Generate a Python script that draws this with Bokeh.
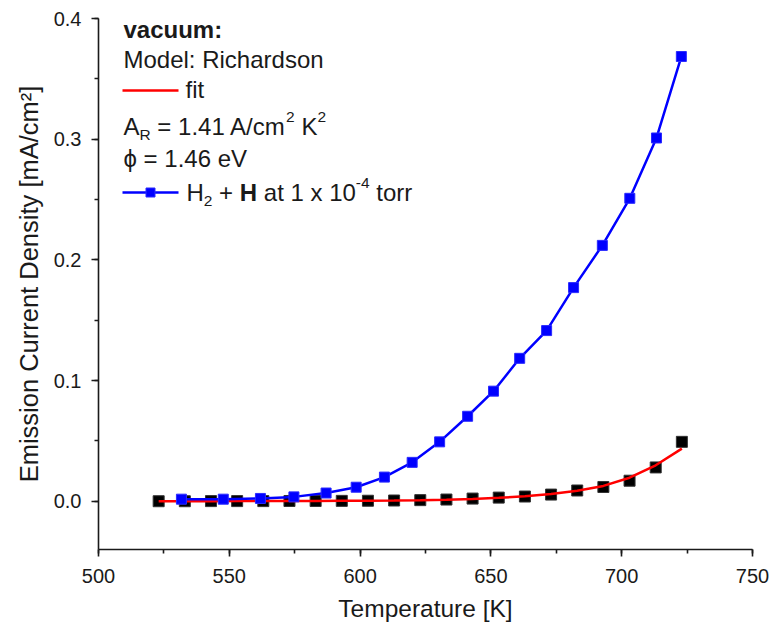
from bokeh.plotting import figure
from bokeh.models import Range1d, SingleIntervalTicker, PrintfTickFormatter, Label
from bokeh.embed import file_html
from bokeh.resources import INLINE

# ---------------- data ----------------
T_vacuum = [523, 533, 543, 553, 563, 573, 583, 593, 603, 613, 623,
            633, 643, 653, 663, 673, 683, 693, 703, 713, 723]
J_vacuum = [0.0000, 0.0000, 0.0001, 0.0001, 0.0001, 0.0002, 0.0002, 0.0003, 0.0004, 0.0006, 0.0009,
            0.0014, 0.0022, 0.0030, 0.0039, 0.0055, 0.0089, 0.0118, 0.0170, 0.0280, 0.0492]
J_fit = [0.0000, 0.0000, 0.0000, 0.0001, 0.0001, 0.0001, 0.0002, 0.0003, 0.0004, 0.0006, 0.0009,
         0.0013, 0.0019, 0.0028, 0.0041, 0.0060, 0.0087, 0.0127, 0.0195, 0.0298, 0.0436]
T_h2 = [531.7, 547.7, 561.9, 574.7, 587.0, 598.5, 609.3, 619.9, 630.4,
        641.1, 651.0, 661.0, 671.3, 681.6, 692.6, 703.1, 713.3, 722.8]
J_h2 = [0.0017, 0.0017, 0.0023, 0.0036, 0.0068, 0.0116, 0.0200, 0.0322, 0.0492,
        0.0704, 0.0912, 0.1184, 0.1414, 0.1770, 0.2120, 0.2510, 0.3010, 0.3685]

x_ticks_interval = 50
y_ticks_interval = 0.1
X0, X1 = 500, 750
Y0, Y1 = -0.04, 0.4

FONT = "Liberation Sans"
W, H = 769, 627
FL, FR, FT, FB = 98, 752, 18, 549   # frame edges in pixels

p = figure(width=W, height=H, output_backend="svg", toolbar_location=None,
           x_range=Range1d(X0, X1), y_range=Range1d(Y0, Y1),
           min_border_left=FL, min_border_right=W - FR,
           min_border_top=FT, min_border_bottom=H - FB)
p.outline_line_color = None
p.xgrid.visible = False
p.ygrid.visible = False
p.background_fill_color = "white"
p.border_fill_color = "white"

p.xaxis.ticker = SingleIntervalTicker(interval=x_ticks_interval, num_minor_ticks=2)
p.yaxis.ticker = SingleIntervalTicker(interval=y_ticks_interval, num_minor_ticks=2)
p.yaxis.formatter = PrintfTickFormatter(format="%.1f")
p.xaxis.axis_label = "Temperature [K]"
p.yaxis.axis_label = "Emission Current Density [mA/cm²]"

for ax in (p.xaxis[0], p.yaxis[0]):
    ax.axis_line_color = "#1a1a1a"
    ax.axis_line_width = 1.6
    ax.major_tick_line_color = "#1a1a1a"
    ax.major_tick_line_width = 1.6
    ax.minor_tick_line_color = "#1a1a1a"
    ax.minor_tick_line_width = 1.6
    ax.major_tick_in = 0
    ax.major_tick_out = 7
    ax.minor_tick_in = 0
    ax.minor_tick_out = 4
    ax.major_label_text_font = FONT
    ax.major_label_text_font_size = "20px"
    ax.major_label_text_color = "#1a1a1a"
    ax.axis_label_text_font = FONT
    ax.axis_label_text_font_size = "24.5px"
    ax.axis_label_text_font_style = "normal"
    ax.axis_label_text_color = "#1a1a1a"
p.yaxis.axis_label_text_font_size = "25.5px"
p.xaxis.major_label_standoff = 12
p.yaxis.major_label_standoff = 10
p.xaxis.axis_label_standoff = 9
p.yaxis.axis_label_standoff = 8

# ---------------- data marks ----------------
p.scatter(T_vacuum, J_vacuum, marker="square", size=11, fill_color="black",
          line_color="#333333", line_width=1)
p.line(T_vacuum, J_fit, line_color="#ff0000", line_width=2.5)
p.line(T_h2, J_h2, line_color="#0000ff", line_width=2.5)
p.scatter(T_h2, J_h2, marker="square", size=10, fill_color="#0000ff",
          line_color="#2a2aff", line_width=1)

# ---------------- legend block (pixel layout -> data coordinates) ----------------
def sx(px):
    return X0 + (px - FL) / (FR - FL) * (X1 - X0)

def sy(py):
    return Y1 - (py - FT) / (FB - FT) * (Y1 - Y0)

REG = {' ': 278, 'A': 667, 'C': 722, 'D': 722, 'E': 667, 'H': 722, 'K': 667, 'M': 833,
       'R': 722, 'V': 667, 'a': 556, 'c': 500, 'd': 556, 'e': 556, 'h': 556, 'i': 222,
       'l': 222, 'm': 833, 'n': 556, 'o': 556, 'r': 333, 's': 500, 't': 278, 'u': 556,
       'v': 500, 'x': 500, 'y': 500, '.': 278, ':': 278, '=': 584, '+': 584, '/': 278,
       '-': 333, '[': 278, ']': 278}
BOLD = {'H': 722, 'v': 556, 'a': 556, 'c': 556, 'u': 611, 'm': 889, ':': 333, ' ': 278}

def tw(text, size, bold=False):
    tab = BOLD if bold else REG
    return sum(tab.get(ch, 556) for ch in text) * size / 1000.0

LS = 24      # legend font size
SS = 15.5    # sub/superscript size
TEXT_SHIFT = -9

def seg_line(x, base, parts):
    """parts: (text, kind) with kind in normal/bold/sub/sup"""
    base += TEXT_SHIFT
    for text, kind in parts:
        size = SS if kind in ("sub", "sup") else LS
        bold = kind == "bold"
        dy = {"sub": 8, "sup": -10}.get(kind, 0)
        lead = len(text) - len(text.lstrip(" "))
        x0 = x + tw(" " * lead, size, bold)
        p.add_layout(Label(x=sx(x0), y=sy(base + dy), text=text.strip(" "),
                           text_font=FONT, text_font_size=f"{size}px",
                           text_font_style="bold" if bold else "normal",
                           text_color="#1a1a1a", text_baseline="alphabetic",
                           text_align="left"))
        x += tw(text, size, bold)

LX = 123
seg_line(LX, 38, [("vacuum:", "bold")])
seg_line(LX, 68, [("Model: Richardson", "normal")])
p.line([sx(122), sx(178)], [sy(90), sy(90)], line_color="#ff0000", line_width=2.5)
seg_line(185, 98, [("fit", "normal")])
seg_line(LX, 135, [("A", "normal"), ("R", "sub"), (" = 1.41 A/cm", "normal"),
                   ("2", "sup"), (" K", "normal"), ("2", "sup")])
seg_line(LX, 167, [("ϕ = 1.46 eV", "normal")])
p.line([sx(122), sx(178)], [sy(192), sy(192)], line_color="#0000ff", line_width=2.5)
p.scatter([sx(150)], [sy(192)], marker="square", size=9, fill_color="#0000ff",
          line_color="#2a2aff")
seg_line(186, 201, [("H", "normal"), ("2", "sub"), (" + ", "normal"), ("H", "bold"),
                    (" at 1 x 10", "normal"), ("-4", "sup"), (" torr", "normal")])

open("out.html", "w").write(file_html(p, INLINE))
